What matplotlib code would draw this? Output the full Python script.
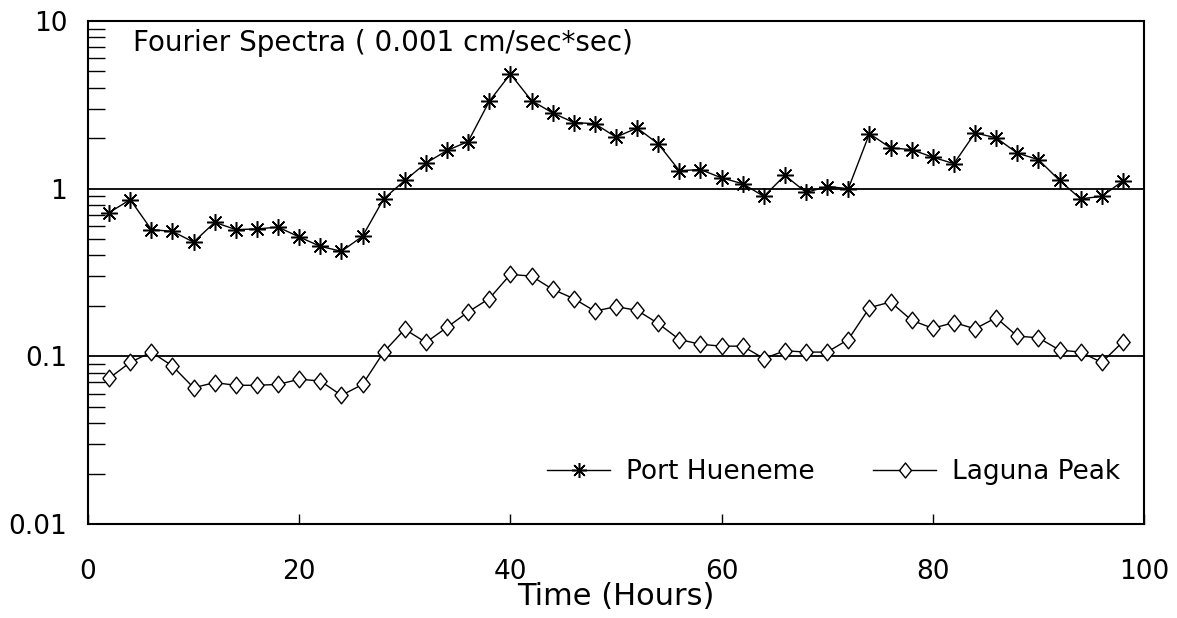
import matplotlib
matplotlib.use('Agg')
from matplotlib import pyplot as plt
from matplotlib.ticker import LogLocator, NullFormatter, FixedLocator, FixedFormatter

plt.rcParams['font.family'] = ['DejaVu Sans']

hours = [2, 4, 6, 8, 10, 12, 14, 16, 18, 20, 22, 24, 26, 28, 30, 32, 34,
         36, 38, 40, 42, 44, 46, 48, 50, 52, 54, 56, 58, 60, 62, 64, 66,
         68, 70, 72, 74, 76, 78, 80, 82, 84, 86, 88, 90, 92, 94, 96, 98]

port_hueneme = [0.72, 0.86, 0.57, 0.556, 0.48, 0.63, 0.57, 0.575, 0.59, 0.515,
                0.453, 0.423, 0.52, 0.87, 1.12, 1.42, 1.69,
                1.91, 3.32, 4.83, 3.35, 2.83, 2.48, 2.44, 2.03, 2.30, 1.85,
                1.28, 1.30, 1.16, 1.07, 0.90, 1.20,
                0.95, 1.03, 1.00, 2.13, 1.75, 1.71, 1.54, 1.41, 2.15, 2.01,
                1.63, 1.49, 1.12, 0.87, 0.90, 1.11]

laguna_peak = [0.074, 0.092, 0.106, 0.0875, 0.065, 0.0697, 0.0672, 0.0672,
               0.068, 0.073, 0.0713, 0.0585, 0.068, 0.106,
               0.145, 0.121, 0.149, 0.184, 0.221, 0.308, 0.301, 0.251, 0.221,
               0.186, 0.198, 0.188, 0.157, 0.126, 0.118, 0.115, 0.115, 0.097,
               0.108,
               0.106, 0.106, 0.126, 0.195, 0.211, 0.164, 0.147, 0.159, 0.146,
               0.170, 0.132, 0.129, 0.109, 0.106, 0.092, 0.122]

ytick_vals = [0.01, 0.1, 1, 10]
ytick_labels = ['0.01', '0.1', '1', '10']
xtick_vals = [0, 20, 40, 60, 80, 100]

asterisk = (8, 2, 0)
diamond = [(-0.8, 0), (0, 1), (0.8, 0), (0, -1), (-0.8, 0)]

fig = plt.figure(figsize=(11.77, 6.18), dpi=100)
ax = fig.add_axes([88 / 1177, 1 - 524 / 618, 1056 / 1177, 503 / 618])

ax.plot(hours, port_hueneme, color='black', lw=1.0, marker=asterisk,
        ms=12, mew=1.1, label='Port Hueneme')
ax.plot(hours, laguna_peak, color='black', lw=1.0, marker=diamond,
        ms=12, mew=1.0, mfc='white', label='Laguna Peak')

ax.set_yscale('log')
ax.set_xlim(0, 100)
ax.set_ylim(0.01, 10)

# reference lines at the inner decades
for v in (0.1, 1):
    ax.axhline(v, color='black', lw=1.3, zorder=1)

ax.yaxis.set_major_locator(FixedLocator(ytick_vals))
ax.yaxis.set_major_formatter(FixedFormatter(ytick_labels))
ax.yaxis.set_minor_locator(LogLocator(base=10, subs=range(2, 10)))
ax.yaxis.set_minor_formatter(NullFormatter())
ax.tick_params(axis='y', which='major', length=0, pad=15, labelsize=19)
ax.tick_params(axis='y', which='minor', direction='in', length=12, width=1.0)

ax.xaxis.set_major_locator(FixedLocator(xtick_vals))
ax.tick_params(axis='x', which='major', direction='in', length=7, width=1.0,
               pad=25, labelsize=19)

for sp in ax.spines.values():
    sp.set_linewidth(1.5)

ax.set_xlabel('Time (Hours)', fontsize=22)
ax.xaxis.set_label_coords(0.5, -0.116)

ax.text(0.043, 0.985, 'Fourier Spectra ( 0.001 cm/sec*sec)',
        transform=ax.transAxes, fontsize=20, va='top', ha='left')

ax.legend(loc='lower right', bbox_to_anchor=(1.0, 0.03), ncol=2,
          frameon=False, fontsize=19, handlelength=2.4, columnspacing=2.2,
          handletextpad=0.6, markerscale=0.9)

fig.savefig('out.png', dpi=100)
